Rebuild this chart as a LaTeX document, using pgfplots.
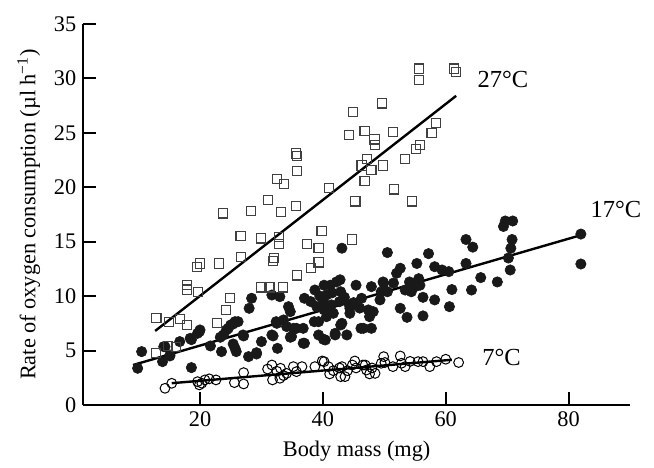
\documentclass[border=0pt]{standalone}
\usepackage{fontspec}
\setmainfont{Liberation Serif}
\usepackage{pgfplots}
\pgfplotsset{compat=1.18}
\begin{document}
\begin{tikzpicture}
\begin{axis}[name=ax, scale only axis, width=273.4bp, height=190.5bp,
  xmin=1, xmax=90, ymin=0, ymax=35,
  axis lines*=left, axis line style={line width=1bp},
  xtick={20,40,60,80}, ytick={0,5,...,35},
  tick align=inside, major tick length=6.5bp,
  tick style={line width=1bp, black},
  font=\fontsize{11.2}{13}\selectfont,
  /pgf/number format/assume math mode=true,
  xlabel={Body mass (mg)},
  ylabel={Rate of oxygen consumption (µl h\textsuperscript{−1})},
  clip=false]
% 17 C filled circles
\addplot[only marks, mark=*, mark size=2.6bp, mark options={fill=black!90, draw=black!90, line width=0.3bp}] coordinates {
(9.85,3.37)(10.5,4.9)(13.9,3.98)(15.1,4.59)(14.1,5.36)(16.7,5.82)(18.6,6.0)(19.9,6.74)(18.6,3.43)(21.7,5.42)
(23.5,4.9)(23.8,6.43)(24.6,7.04)(25.4,7.44)(26.2,7.65)(25.4,5.6)(25.9,4.9)(27.0,6.43)(28.0,8.88)(28.4,9.8)
(27.9,4.44)(29.2,4.8)(30.0,5.82)(31.7,10.1)(33.0,9.95)(32.5,7.5)(33.6,7.81)(31.7,6.43)(32.6,5.2)(34.4,9.03)
(34.7,8.57)(34.9,6.28)(35.2,7.04)(36.8,7.04)(37.0,5.67)(37.0,9.8)
(19.6,6.58)(20.0,6.89)(18.4,6.12)(23.3,6.22)(24.3,6.89)(25.0,7.35)(25.7,7.65)(25.7,5.21)(27.1,6.34)(29.2,4.68)
(31.9,6.34)(32.4,7.65)(34.1,7.2)(34.7,6.22)(35.7,7.04)(36.8,5.67)(14.3,5.36)(15.1,4.5)
(38.7,10.56)(38.6,7.65)(39.3,6.43)(40.1,6.03)(40.2,11.0)(41.2,11.0)(40.6,10.1)(40.1,9.49)(40.2,8.73)(40.6,8.11)
(41.7,8.42)(41.4,9.19)(42.8,11.5)(42.9,10.4)(42.7,9.49)(43.1,14.4)(42.0,6.43)(43.1,7.5)(43.9,6.43)(44.3,9.19)
(44.4,8.42)(45.4,11.0)(46.3,9.8)(46.2,7.04)(47.4,8.73)(47.6,8.11)(47.9,7.04)(47.9,10.87)(49.3,9.65)(49.9,11.2)
(50.5,14.0)(49.5,10.4)(50.5,10.4)(52.0,12.1)(52.6,12.56)(51.5,11.2)(52.6,8.88)(53.7,8.05)(53.4,10.56)(54.4,10.4)
(54.1,11.3)(55.3,13.0)(55.6,11.6)(55.8,11.0)(55.0,10.87)(56.3,8.18)(56.3,9.89)(57.2,13.9)(58.2,12.7)(58.2,9.65)
(59.4,12.4)(60.5,12.25)(61.0,10.6)(60.6,9.03)
(63.3,15.2)(64.4,14.5)(63.3,13.0)(65.7,11.7)(64.2,10.56)(68.4,11.3)(69.4,16.4)(69.7,16.9)(70.9,16.9)(70.8,15.2)
(70.6,14.4)(70.2,13.5)(70.5,12.4)(82.0,15.7)(82.0,12.95)
(39.0,9.03)(39.3,7.65)(40.4,5.97)(40.1,8.9)(41.2,8.57)(42.2,11.3)(42.0,6.58)(42.9,7.35)(44.4,8.88)(46.6,7.04)
(48.2,8.57)(49.8,11.3)(38.0,9.5)(39.5,10.0)(41.5,10.3)(43.5,9.9)(45.0,9.4)(46.0,8.9)
};
% 7 C open circles
\addplot[only marks, mark=o, mark size=2.45bp, mark options={draw=black, line width=0.5bp}] coordinates {
(14.3,1.53)(15.4,1.99)(19.6,2.14)(19.9,1.84)(20.8,2.3)(22.6,2.3)(25.6,2.05)(27.1,1.93)(27.1,2.97)(31.7,3.67)
(31.8,2.3)(33.1,3.37)(33.0,2.45)(34.1,2.9)(35.2,3.52)(35.7,3.06)(20.3,2.0)(21.5,2.4)(32.5,3.1)(33.6,2.7)(31.0,3.3)
(36.6,3.52)(38.7,3.52)(40.2,3.98)(40.9,3.52)(41.1,2.85)(41.7,3.15)(42.7,3.4)(43.1,3.52)(42.9,2.6)(44.0,3.15)
(44.8,3.67)(45.4,3.4)(46.5,3.67)(47.6,2.85)(48.0,3.4)(49.5,3.83)(49.9,4.44)(51.4,3.52)(52.6,4.5)(52.8,3.83)
(53.4,3.52)(54.2,4.0)(55.5,3.98)(56.3,3.98)(57.4,3.52)(58.5,3.98)(60.0,4.2)(62.1,3.9)
(39.9,4.04)(45.2,4.04)(46.9,3.67)(48.5,2.9)(50.1,3.9)(43.6,2.6)(47.1,3.21)
};
% 27 C open squares
\addplot[only marks, mark=square, mark size=2.3bp, mark options={draw=black!75, line width=0.55bp}] coordinates {
(12.9,8.0)(15.0,7.65)(16.7,7.9)(17.9,7.35)(17.9,11.0)(17.9,10.6)(19.7,10.4)(19.5,12.65)(20.0,13.0)(23.1,13.0)
(23.7,17.6)(24.9,9.8)(24.2,8.7)(22.8,7.56)(26.7,13.6)(26.6,15.55)(28.3,17.8)(29.9,15.3)(30.0,10.8)(31.3,10.8)
(33.5,10.8)(31.1,18.8)(32.5,20.75)(33.7,20.3)(33.2,17.7)(32.9,15.4)(32.9,14.8)(31.9,13.2)(32.1,13.5)(35.6,23.1)
(35.8,22.9)(35.8,21.5)(35.6,18.3)(35.8,11.9)(37.4,14.8)(39.3,14.4)(39.8,16.0)(39.3,13.1)(38.1,12.6)(41.0,19.9)
(44.7,15.2)(45.3,18.7)(44.9,26.9)(44.2,24.8)(46.8,25.2)(48.4,24.4)(48.5,23.9)(47.2,22.6)(46.3,22.0)(47.9,21.6)
(46.8,20.6)(49.6,27.7)(55.7,30.9)(55.7,29.85)(61.3,30.9)(61.7,30.6)(51.4,25.1)(58.4,25.9)(57.7,25.0)(55.8,23.9)
(55.2,23.5)(53.4,22.6)(49.8,22.0)(51.6,19.8)(54.5,18.7)(12.8,4.8)(14.8,5.4)(16.1,5.35)
};
% fitted lines
\addplot[black, line width=1.2bp] coordinates {(12.7,6.8)(61.7,28.4)};
\addplot[black, line width=1.2bp] coordinates {(9.1,3.67)(82.0,15.6)};
\addplot[black, line width=1.2bp] coordinates {(15.4,2.0)(61.0,4.15)};
\node[font=\fontsize{12.3}{14}\selectfont] at (axis cs:69.3,29.9) {27°C};
\node[font=\fontsize{12.3}{14}\selectfont] at (axis cs:87.7,18.0) {17°C};
\node[font=\fontsize{12.3}{14}\selectfont] at (axis cs:69.1,4.4) {7°C};
\end{axis}
\pgfresetboundingbox
\path[use as bounding box] ([shift={(-41.65bp,-31.5bp)}]ax.south west) rectangle ([shift={(12bp,12bp)}]ax.north east);
\end{tikzpicture}
\end{document}
